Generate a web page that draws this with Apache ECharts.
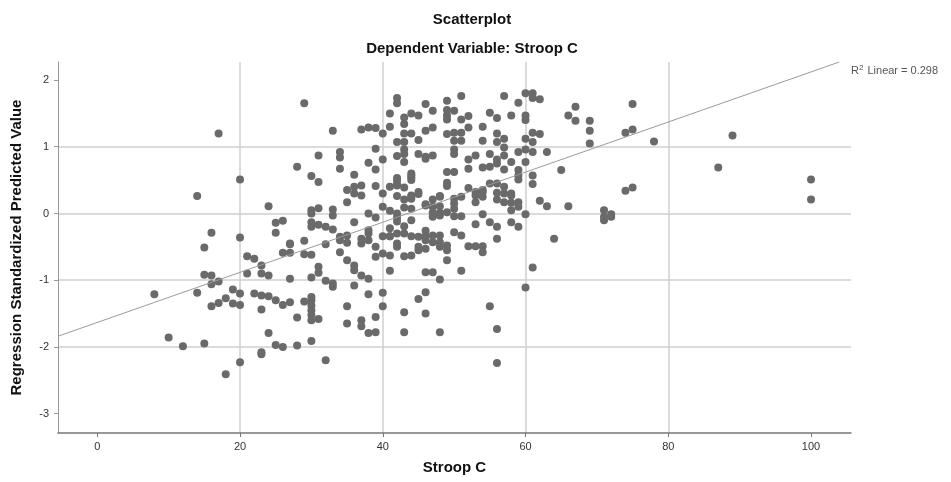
<!DOCTYPE html>
<html>
<head>
<meta charset="utf-8">
<script src="https://cdn.jsdelivr.net/npm/echarts@6/dist/echarts.min.js"></script>
<style>
  html, body { margin: 0; padding: 0; background: #fff; }
  #main { width: 951px; height: 482px; }
</style>
</head>
<body>
<div id="main"></div>
<script>
// Stroop C scores (x) and regression standardized predicted values (y)
const stroopC = [
  8, 10, 12, 14, 14, 15, 15, 15, 16, 16, 17, 16, 17, 18, 19, 20, 19, 20, 21, 22,
  21, 23, 23, 24, 26, 27, 27, 29, 29, 30, 32, 22, 23, 24, 25, 26, 27, 23, 29, 30,
  30, 30, 30, 30, 31, 30, 28, 24, 23, 23, 25, 26, 28, 30, 20, 18, 32, 27, 30, 31,
  31, 32, 33, 33, 29, 17, 33, 31, 28, 30, 31, 20, 24, 30, 31, 30, 33, 33, 25, 26,
  25, 30, 30, 31, 32, 33, 16, 20, 27, 34, 35, 34, 35, 37, 37, 38, 38, 39, 38, 40,
  41, 40, 41, 34, 35, 36, 36, 37, 38, 39, 41, 36, 38, 40, 40, 39, 35, 35, 37, 37,
  38, 39,
  37, 38, 39, 40, 41, 41, 42, 42, 42, 39, 40, 38, 39, 34, 34, 34, 36, 35, 36, 37,
  36, 37, 35, 39, 40, 41, 42, 42, 40, 41, 42, 42, 38, 39, 36,
  43, 43, 43, 44, 43, 43, 43, 42, 43, 44, 44, 43, 42, 43, 44, 45, 43, 44, 42, 43,
  42, 43, 41, 41, 42, 42, 44, 45, 46, 47, 47, 48, 48, 49, 46, 44, 45, 46, 47, 45,
  46, 47, 46, 47, 45, 46, 49, 49, 49, 49, 50, 51, 51, 52, 49, 50, 51, 50, 51, 52,
  50, 50, 49, 50, 52, 52, 53, 54, 54, 55, 56, 54, 55, 56, 55, 56, 56, 56, 57, 57,
  57, 49, 49, 52, 53, 54, 53, 53, 54, 51, 50, 50, 50, 48, 47, 46, 47, 48, 48, 47,
  49, 50, 51, 54, 53, 55, 56, 56, 57, 58, 58, 59, 59, 58, 58, 59, 56, 60, 59, 59,
  59, 60, 58, 61, 61, 62, 63, 64, 66, 65, 63, 60, 61, 60, 61, 61, 62, 60, 60, 59,
  58, 57, 60, 61, 61, 62, 66, 67, 67, 69, 69, 69, 42, 42, 44, 44, 44, 44, 45, 46,
  48, 54, 55, 56, 57, 57, 58, 57, 59, 47, 48, 56, 44, 43, 44, 46, 45, 45, 46, 48,
  49, 50, 51, 52, 53, 54, 54, 49, 46, 47, 48, 51, 46, 45, 43, 46, 43, 48, 55, 56,
  56, 60, 61, 71, 71, 71, 72, 72, 75, 74, 75, 78, 89, 87, 100, 100, 74, 75
];
const predictedValue = [
  -1.21, -1.86, -1.99, -1.19, 0.26, -1.95, -0.51, -0.92, -0.93, -1.06, -1.02, -1.39, -1.34, -1.27, -1.14, -1.20, -1.35, -1.37, -0.64, -0.68,
  -0.90, -0.78, -0.90, -0.93, -0.59, -0.59, -0.46, -0.41, -0.61, -0.62, -0.46, -1.20, -1.23, -1.24, -1.30, -1.37, -1.33, -1.44, -1.32, -1.25,
  -1.30, -1.38, -1.45, -1.52, -1.58, -1.60, -1.56, -1.79, -2.08, -2.11, -1.97, -2.00, -1.98, -1.91, -2.23, -2.41, -2.20, -0.98, -0.96, -0.80,
  -0.89, -1.01, -1.05, -1.10, 1.65, 1.20, 1.24, 0.87, 0.70, 0.56, 0.47, 0.51, 0.11, 0.05, 0.08, 0.00, 0.06, -0.03, -0.14, -0.11,
  -0.29, -0.13, -0.20, -0.17, -0.20, -0.24, -0.29, -0.36, -0.45, -0.35, -0.33, -0.40, -0.44, -0.38, -0.45, -0.30, -0.40, -0.50, -0.25, -0.34,
  -0.34, -0.60, -0.63, -0.58, -0.70, -0.78, -0.85, -0.93, -0.98, -0.65, -0.86, -1.08, -1.21, -1.19, -1.39, -1.55, -1.39, -1.65, -1.60, -1.69,
  -1.79, -1.78,
  1.26, 1.29, 1.28, 1.20, 1.50, 1.30, 1.73, 1.65, 1.07, 0.97, 0.81, 0.76, 0.66, 0.92, 0.84, 0.67, 0.58, 0.35, 0.40, 0.42,
  0.30, 0.27, 0.17, 0.41, 0.30, 0.40, 0.53, 0.44, 0.10, 0.04, 0.00, -0.06, 0.00, -0.06, -0.13,
  1.44, 1.34, 1.20, 1.20, 1.07, 0.96, 0.89, 0.86, 0.77, 0.60, 0.54, 0.39, 0.26, 0.21, 0.25, 0.29, 0.09, 0.07, -0.12, -0.19,
  -0.30, -0.30, -0.22, -0.34, -0.45, -0.50, -0.34, -0.35, -0.40, -0.33, -0.43, -0.33, -0.43, -0.48, -0.26, 1.50, 1.47, 1.64, 1.54, 1.10,
  1.24, 1.29, 0.85, 0.87, 0.89, 0.82, 1.69, 1.55, 1.47, 1.41, 1.54, 1.76, 1.41, 1.46, 1.19, 1.21, 1.21, 1.09, 1.09, 1.29,
  0.96, 0.89, 0.62, 0.62, 0.81, 0.67, 0.87, 1.30, 1.09, 1.51, 1.43, 0.69, 0.70, 0.75, 0.89, 0.81, 1.07, 1.20, 1.12, 0.99,
  0.87, 0.46, 0.41, 0.38, 0.32, 0.32, 0.27, 0.17, 0.25, 0.25, 0.22, 0.15, 0.07, 0.25, 0.21, 0.14, 0.10, 0.11, 0.01, 0.01,
  0.02, -0.04, -0.04, -0.01, -0.16, -0.13, 0.21, 0.31, 0.40, 0.30, 0.16, 0.17, 0.10, 0.05, -0.13, -0.20, -0.38, -0.01, 0.65, 0.57,
  0.51, 0.77, 0.77, 0.57, 0.44, 0.19, 0.11, -0.38, 0.11, 0.65, 0.92, 1.12, 1.07, 0.96, 0.92, 1.21, 1.19, 1.47, 1.40, 1.66,
  1.47, 1.76, 1.80, 1.80, 1.73, 1.71, 1.47, 1.60, 1.39, 1.39, 1.24, 1.05, 0.50, 0.42, 0.57, 0.50, 0.27, 0.22, 0.32, 0.12,
  0.26, 0.35, 0.45, 0.45, 0.30, 0.17, 0.27, 0.66, 0.92, -0.05, -0.03, -0.20, -0.10, -0.64, -0.63, -0.34, -0.50, -0.55, -0.53, -0.50,
  -0.55, -0.28, -0.33, -0.49, -0.49, -0.49, -0.58, -0.70, -0.88, -0.88, -0.99, -0.86, -1.18, -1.28, -1.48, -1.50, -1.78, -1.78, -1.39, -1.73,
  -2.24, -1.11, -0.81, -0.10, 0.05, -0.05, -0.01, -0.05, 1.64, 1.21, 1.26, 1.08, 1.17, 0.69, 0.51, 0.21, 0.34, 0.39
];
// fit line end points as drawn (edge of plot)
const fitX = [-5.5, 103.96];
const fitY = [-1.84, 2.27];
const xTicks = [0, 20, 40, 60, 80, 100];
const yTicks = [-3, -2, -1, 0, 1, 2];
const rSquared = '0.298';

const points = stroopC.map((x, i) => [x, predictedValue[i]]);
const fitLine = fitX.map((x, i) => [x, fitY[i]]);

const chart = echarts.init(document.getElementById('main'), null, { renderer: 'canvas' });
const fontFamily = '"Liberation Sans", Arial, sans-serif';

chart.setOption({
  animation: false,
  backgroundColor: '#ffffff',
  title: [
    {
      text: 'Scatterplot',
      left: 467, top: 7, textAlign: 'center',
      textStyle: { fontFamily, fontSize: 15, fontWeight: 'bold', color: '#111' }
    },
    {
      text: 'Dependent Variable: Stroop C',
      left: 467, top: 36, textAlign: 'center',
      textStyle: { fontFamily, fontSize: 15, fontWeight: 'bold', color: '#111' }
    }
  ],
  graphic: [{
    type: 'text',
    left: 851, top: 64,
    style: {
      text: '{t|R}{s|2}{t| Linear = ' + rSquared + '}',
      rich: {
        t: { fontFamily, fontSize: 11, fill: '#555' },
        s: { fontFamily, fontSize: 8, fill: '#555', verticalAlign: 'top', padding: [0, 1, 6, 0] }
      }
    }
  }],
  grid: { left: 58, right: 100, top: 62, bottom: 49 },
  xAxis: {
    type: 'value',
    min: -5.5, max: 105.6,
    splitNumber: 5,
    name: 'Stroop C',
    nameLocation: 'middle',
    nameGap: 27,
    nameTextStyle: { fontFamily, fontSize: 15, fontWeight: 'bold', color: '#111' },
    axisLine: { show: true, onZero: false, lineStyle: { color: '#777', width: 1.5 } },
    axisTick: { show: true, customValues: xTicks, length: 4, lineStyle: { color: '#777' } },
    axisLabel: { customValues: xTicks, fontFamily, fontSize: 11, color: '#333', margin: 8 },
    splitLine: { show: true, showMinLine: false, showMaxLine: false, lineStyle: { color: '#cfcfcf', width: 1.5 } }
  },
  yAxis: {
    type: 'value',
    min: -3.29, max: 2.27,
    splitNumber: 5,
    name: 'Regression Standardized Predicted Value',
    nameLocation: 'middle',
    nameGap: 34,
    nameTextStyle: { fontFamily, fontSize: 15, fontWeight: 'bold', color: '#111' },
    axisLine: { show: true, onZero: false, lineStyle: { color: '#999', width: 1 } },
    axisTick: { show: true, customValues: yTicks, length: 4, lineStyle: { color: '#999' } },
    axisLabel: { customValues: yTicks, fontFamily, fontSize: 11, color: '#333', margin: 9 },
    splitLine: { show: true, showMinLine: false, showMaxLine: false, lineStyle: { color: '#cfcfcf', width: 1.5 } }
  },
  series: [
    {
      type: 'scatter',
      data: points,
      symbolSize: 8,
      itemStyle: { color: '#6a6a6a', opacity: 1 },
      z: 3
    },
    {
      type: 'line',
      data: fitLine,
      symbol: 'none',
      lineStyle: { color: '#9a9a9a', width: 1 },
      silent: true,
      z: 4
    }
  ]
});
</script>
</body>
</html>
